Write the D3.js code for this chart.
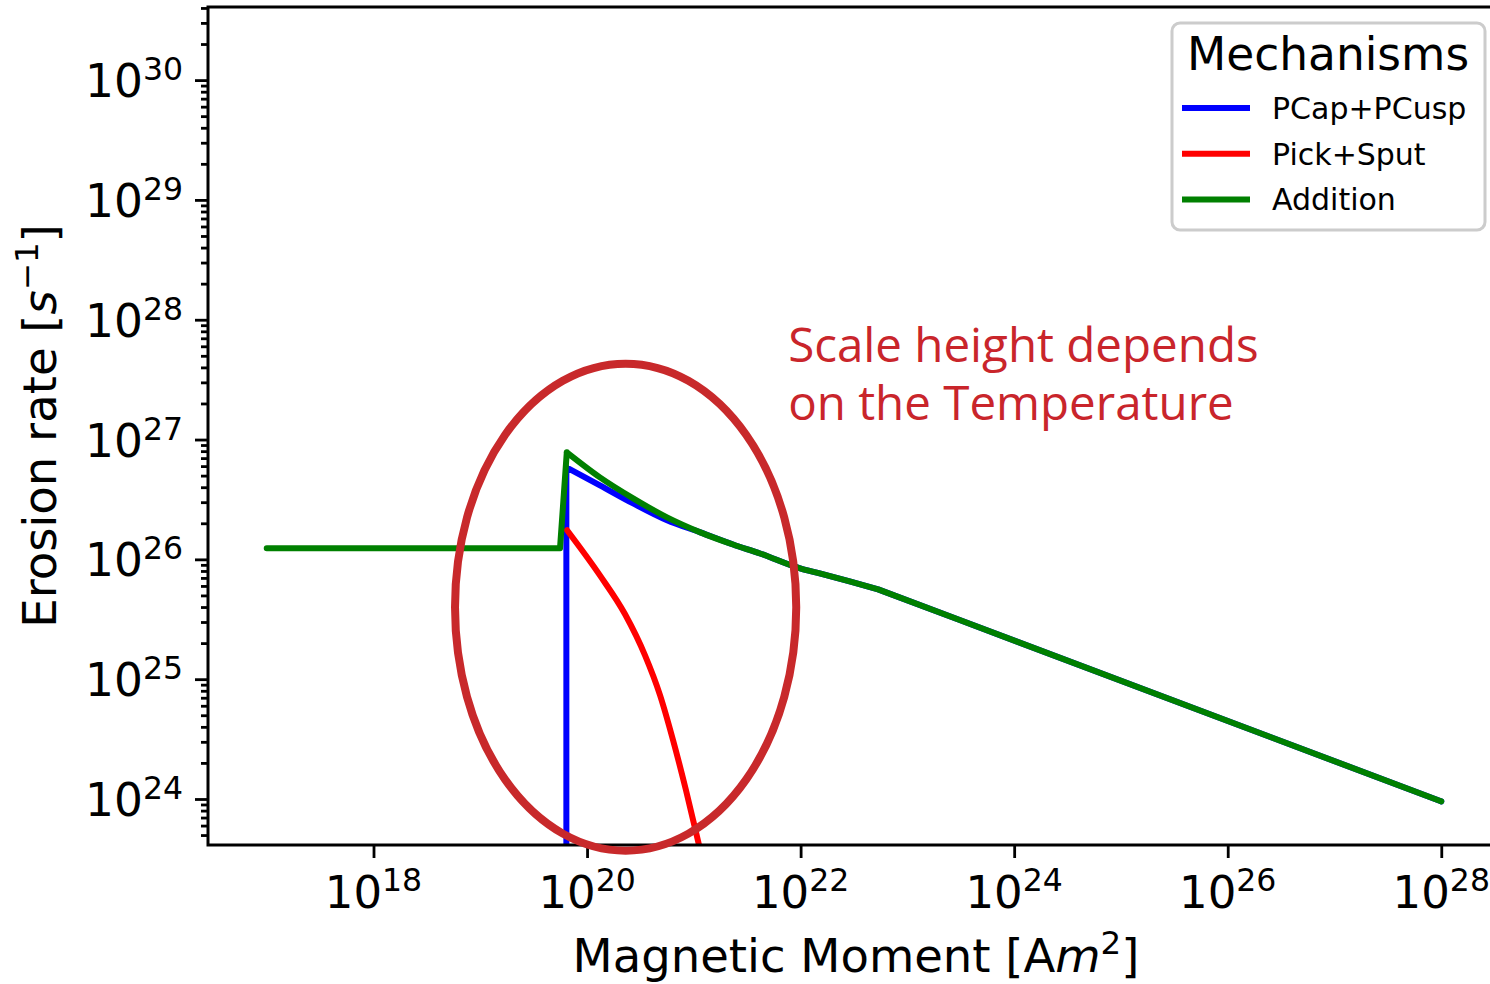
<!DOCTYPE html>
<html>
<head>
<meta charset="utf-8">
<script src="https://cdn.jsdelivr.net/npm/d3@7"></script>
<style>
  body { margin: 0; background: #fff; }
  svg { display: block; }
</style>
</head>
<body>
<script>
// Here's the data (x = magnetic moment, y = erosion rate)
var pcapX = [6.4e19, 6.4e19, 1.32e20, 2.70e20, 5.61e20, 1.15e21, 2.33e21, 4.17e21, 9.9e21, 1.51e22, 2.88e22, 5.32e22, 3.09e23, 1e28];
var pcapY = [1e23, 5.86e26, 4.15e26, 2.93e26, 2.12e26, 1.68e26, 1.33e26, 1.12e26, 8.41e25, 7.64e25, 6.55e25, 5.62e25, 3.12e25, 9.55e23];

var pickX = [6.5e19, 1.32e20, 2.27e20, 3.49e20, 4.83e20, 6.40e20, 8.45e20, 1.12e21, 1.48e21];
var pickY = [1.75e26, 7.35e25, 3.48e25, 1.58e25, 7.33e24, 3.08e24, 1.18e24, 4.1e23, 1.43e23];

var addX = [1e17, 5.58e19, 6.46e19, 1.32e20, 2.70e20, 5.61e20, 1.15e21, 2.33e21, 4.17e21, 9.9e21, 1.51e22, 2.88e22, 5.32e22, 3.09e23, 1e28];
var addY = [1.236e26, 1.236e26, 7.82e26, 4.83e26, 3.23e26, 2.24e26, 1.68e26, 1.33e26, 1.12e26, 8.41e25, 7.64e25, 6.55e25, 5.62e25, 3.12e25, 9.55e23];

// points where a line has a sharp corner; in between it is drawn smooth
var pcapCorners = [0, 1, 11, 13];
var pickCorners = [0, 8];
var addCorners = [0, 1, 2, 12, 14];

// tick labels are powers of ten
var xTickExps = [18, 20, 22, 24, 26, 28];
var yTickExps = [24, 25, 26, 27, 28, 29, 30];

// legend entries
var seriesNames = ["PCap+PCusp", "Pick+Sput", "Addition"];
var seriesColors = ["#0000ff", "#ff0000", "#008000"];

// the hand drawn ellipse and its note, in data units
var ellipseX = [5.8e18, 9.1e21];
var ellipseY = [3.7e23, 4.3e27];
var noteLines = ["Scale height depends", "on the Temperature"];
var noteX = 7.64e21;
var noteY = [4.4e27, 1.45e27];

var width = 1490, height = 984;
// note: "top" is taken by window.top, so plot edges get their own names
var plotL = 208, plotR = 1500, plotT = 7, plotB = 845;
var font = "DejaVu Sans, sans-serif";

var svg = d3.select("body")
    .append("svg")
    .attr("width", width)
    .attr("height", height);

// log scales for both axes
var x = d3.scaleLog().domain([Math.pow(10, 16.45), Math.pow(10, 28.55)]).range([plotL, plotR]);
var y = d3.scaleLog().domain([Math.pow(10, 23.616), Math.pow(10, 30.61)]).range([plotB, plotT]);

svg.append("clipPath").attr("id", "plotClip")
    .append("rect")
    .attr("x", plotL).attr("y", plotT)
    .attr("width", plotR - plotL).attr("height", plotB - plotT);

var smoothLine = d3.line()
    .x(function (d) { return x(d[0]); })
    .y(function (d) { return y(d[1]); })
    .curve(d3.curveMonotoneX);

// one path made of smooth pieces joined at the corners
function cornerPath(points, corners) {
    var d = "";
    for (var i = 0; i < corners.length - 1; i++) {
        d += smoothLine(points.slice(corners[i], corners[i + 1] + 1));
    }
    return d;
}

var seriesData = [
    { pts: d3.zip(pcapX, pcapY), corners: pcapCorners },
    { pts: d3.zip(pickX, pickY), corners: pickCorners },
    { pts: d3.zip(addX, addY), corners: addCorners }
];

svg.append("g")
    .attr("clip-path", "url(#plotClip)")
    .selectAll("path")
    .data(seriesData)
    .enter()
    .append("path")
    .attr("d", function (s) { return cornerPath(s.pts, s.corners); })
    .attr("fill", "none")
    .attr("stroke", function (d, i) { return seriesColors[i]; })
    .attr("stroke-width", 6)
    .attr("stroke-linejoin", "round")
    .attr("stroke-linecap", "round");

// minor ticks on the y axis: 2..9 times each decade
var yMinor = [];
for (var e = 23; e <= 30; e++) {
    for (var k = 2; k <= 9; k++) {
        var v = k * Math.pow(10, e);
        if (v >= y.domain()[0] && v <= y.domain()[1]) yMinor.push(v);
    }
}

var xAxis = d3.axisBottom(x)
    .tickValues(xTickExps.map(function (p) { return Math.pow(10, p); }))
    .tickSize(13).tickFormat(function () { return ""; });
var yAxis = d3.axisLeft(y)
    .tickValues(yTickExps.map(function (p) { return Math.pow(10, p); }))
    .tickSize(13).tickFormat(function () { return ""; });
var yAxisMinor = d3.axisLeft(y)
    .tickValues(yMinor)
    .tickSize(7).tickFormat(function () { return ""; });

var gx = svg.append("g").attr("transform", "translate(0," + plotB + ")").call(xAxis);
var gy = svg.append("g").attr("transform", "translate(" + plotL + ",0)").call(yAxis);
var gym = svg.append("g").attr("transform", "translate(" + plotL + ",0)").call(yAxisMinor);

[gx, gy, gym].forEach(function (g) {
    g.select(".domain").remove();
    g.selectAll(".tick line").attr("stroke", "#000").attr("stroke-width", 2.8);
});

// frame (right spine falls just off the picture)
svg.append("rect")
    .attr("x", plotL).attr("y", plotT)
    .attr("width", plotR - plotL).attr("height", plotB - plotT)
    .attr("fill", "none").attr("stroke", "#000").attr("stroke-width", 3);

// tick labels as 10 with a raised exponent
function powerLabel(sel, p) {
    sel.append("tspan").text("10");
    sel.append("tspan").attr("dy", -17).attr("font-size", 31.5).text(p);
}

svg.append("g").selectAll("text")
    .data(xTickExps)
    .enter()
    .append("text")
    .attr("x", function (p) { return x(Math.pow(10, p)); })
    .attr("y", 908)
    .attr("text-anchor", "middle")
    .attr("font-family", font).attr("font-size", 45)
    .each(function (p) { powerLabel(d3.select(this), p); });

svg.append("g").selectAll("text")
    .data(yTickExps)
    .enter()
    .append("text")
    .attr("x", 183)
    .attr("y", function (p) { return y(Math.pow(10, p)) + 17; })
    .attr("text-anchor", "end")
    .attr("font-family", font).attr("font-size", 45.5)
    .each(function (p) { powerLabel(d3.select(this), p); });

// axis titles
var xt = svg.append("text")
    .attr("x", (plotL + plotR) / 2 + 2).attr("y", 972)
    .attr("text-anchor", "middle")
    .attr("font-family", font).attr("font-size", 46.5);
xt.append("tspan").text("Magnetic Moment [A");
xt.append("tspan").attr("font-style", "italic").text("m");
xt.append("tspan").attr("dy", -18).attr("font-size", 32.5).text("2");
xt.append("tspan").attr("dy", 18).text("]");

var yt = svg.append("text")
    .attr("transform", "translate(56," + 426 + ") rotate(-90)")
    .attr("text-anchor", "middle")
    .attr("font-family", font).attr("font-size", 46.5);
yt.append("tspan").text("Erosion rate [");
yt.append("tspan").attr("font-style", "italic").text("s");
yt.append("tspan").attr("dy", -18).attr("font-size", 32.5).text("\u22121");
yt.append("tspan").attr("dy", 18).text("]");

// legend box
var lg = svg.append("g");
lg.append("rect")
    .attr("x", 1172).attr("y", 23)
    .attr("width", 313).attr("height", 207)
    .attr("rx", 8)
    .attr("fill", "#fff").attr("fill-opacity", 0.8)
    .attr("stroke", "#cccccc").attr("stroke-width", 3);
lg.append("text")
    .attr("x", 1328).attr("y", 70)
    .attr("text-anchor", "middle")
    .attr("font-family", font).attr("font-size", 45.5)
    .text("Mechanisms");

var entry = lg.selectAll("g.entry")
    .data(seriesNames)
    .enter()
    .append("g")
    .attr("class", "entry")
    .attr("transform", function (d, i) { return "translate(0," + (108 + i * 45.7) + ")"; });
entry.append("line")
    .attr("x1", 1182).attr("x2", 1250)
    .attr("stroke", function (d, i) { return seriesColors[i]; })
    .attr("stroke-width", 6);
entry.append("text")
    .attr("x", 1272).attr("y", 11)
    .attr("font-family", font).attr("font-size", 30)
    .text(function (d) { return d; });

// the ellipse and its note on top of everything
var ex0 = x(ellipseX[0]), ex1 = x(ellipseX[1]);
var ey0 = y(ellipseY[1]), ey1 = y(ellipseY[0]);
svg.append("ellipse")
    .attr("cx", (ex0 + ex1) / 2).attr("cy", (ey0 + ey1) / 2)
    .attr("rx", (ex1 - ex0) / 2).attr("ry", (ey1 - ey0) / 2)
    .attr("fill", "none")
    .attr("stroke", "#c8292b").attr("stroke-width", 8);

svg.append("g").selectAll("text")
    .data(noteLines)
    .enter()
    .append("text")
    .attr("x", x(noteX))
    .attr("y", function (d, i) { return y(noteY[i]); })
    .attr("font-family", "Open Sans, sans-serif").attr("font-size", 47.5)
    .attr("fill", "#c9252b")
    .text(function (d) { return d; });
</script>
</body>
</html>
